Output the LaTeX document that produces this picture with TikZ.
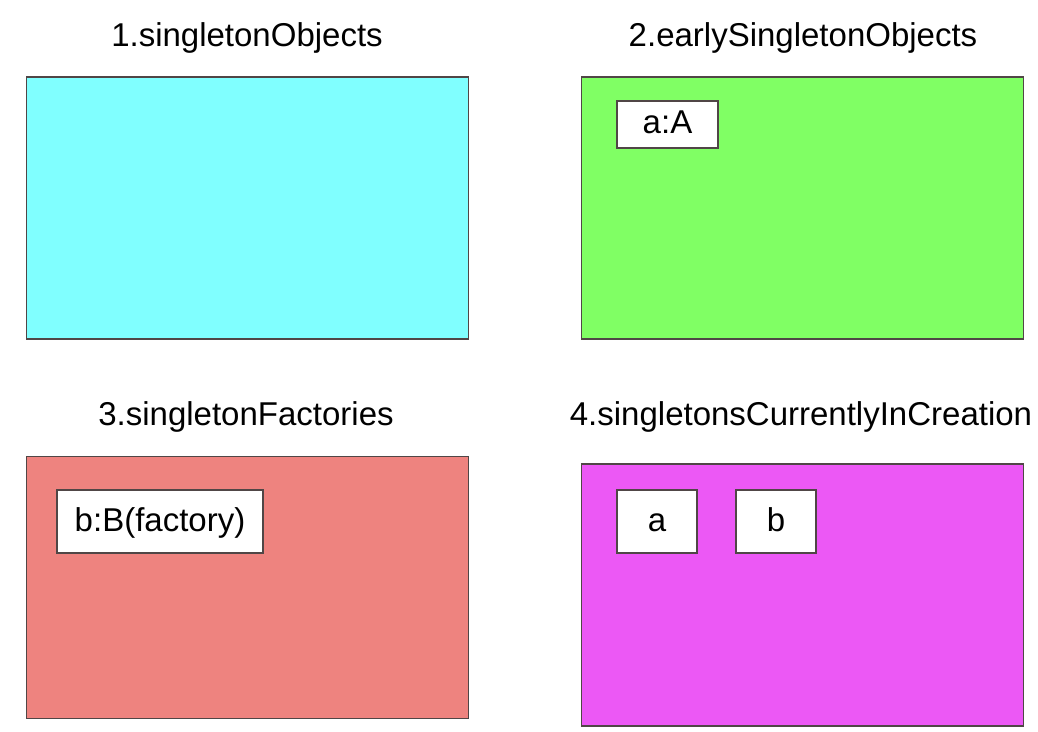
\documentclass[tikz,border=0pt]{standalone}
\usepackage{fontspec}
\setmainfont{Liberation Sans}
\definecolor{cyanfill}{RGB}{128,255,255}
\definecolor{greenfill}{RGB}{128,255,100}
\definecolor{salmonfill}{RGB}{238,131,127}
\definecolor{magfill}{RGB}{236,88,245}
\definecolor{edge}{RGB}{80,70,70}
\begin{document}
\begin{tikzpicture}[x=0.5pt,y=-0.5pt,
  bigbox/.style={draw=edge,line width=0.8pt,inner sep=0pt,minimum width=221pt,minimum height=131pt},
  itembox/.style={draw=edge,fill=white,line width=0.8pt,inner sep=0pt,text height=12pt,text depth=2.5pt,font=\fontsize{16.5}{20}\selectfont},
  title/.style={inner sep=0pt,font=\fontsize{16.5}{20}\selectfont}]
\useasboundingbox (0,0) rectangle (1038,732);
\fill[white] (0,0) rectangle (1038,732);
% titles
\node[title] (t1) at (247,38) {1.singletonObjects};
\node[title] (t2) at (803,38) {2.earlySingletonObjects};
\node[title] (t3) at (246,417) {3.singletonFactories};
\node[title] (t4) at (801,417) {4.singletonsCurrentlyInCreation};
% containers
\node[bigbox,fill=cyanfill] (b1) at (247.5,208) {};
\node[bigbox,fill=greenfill] (b2) at (802.5,208) {};
\node[bigbox,fill=salmonfill] (b3) at (247.5,587.5) {};
\node[bigbox,fill=magfill] (b4) at (802.5,595) {};
% items
\node[itembox,minimum width=50.5pt,minimum height=23.5pt] (aA) at (667.5,124.5) {a:A};
\node[itembox,minimum width=103pt,minimum height=31.5pt] (bB) at (160,521.5) {b:B(factory)};
\node[itembox,minimum width=40pt,minimum height=31.5pt] (ca) at (657,521.5) {a};
\node[itembox,minimum width=40pt,minimum height=31.5pt] (cb) at (776,521.5) {b};
\end{tikzpicture}
\end{document}
